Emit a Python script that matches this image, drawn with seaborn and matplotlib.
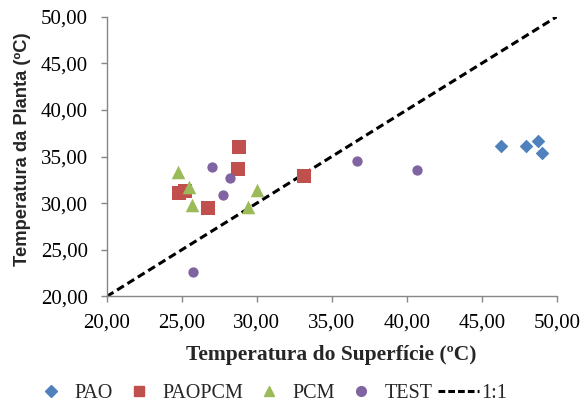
import matplotlib
matplotlib.use("Agg")
import matplotlib.pyplot as plt
import seaborn as sns
import pandas as pd
from matplotlib.lines import Line2D

# Surface temperature (x) vs. plant temperature (y), ºC
pao_x = [46.27, 47.95, 48.75, 49.02]
pao_y = [36.16, 36.16, 36.70, 35.35]

paopcm_x = [24.85, 25.20, 26.75, 28.80, 28.75, 33.15]
paopcm_y = [31.05, 31.30, 29.52, 36.05, 33.63, 32.95]

pcm_x = [24.77, 25.50, 25.70, 30.04, 29.45]
pcm_y = [33.38, 31.77, 29.80, 31.40, 29.60]

test_x = [27.04, 28.20, 27.75, 25.73, 36.70, 40.70]
test_y = [33.90, 32.67, 30.85, 22.66, 34.49, 33.56]

ref_line = [20.0, 50.0]
ticks = [20, 25, 30, 35, 40, 45, 50]

series = [
    ("PAO", pao_x, pao_y, "#4F81BD", "D", 48),
    ("PAOPCM", paopcm_x, paopcm_y, "#C0504D", "s", 90),
    ("PCM", pcm_x, pcm_y, "#9BBB59", "^", 95),
    ("TEST", test_x, test_y, "#8064A2", "o", 55),
]

sns.set_style("white")
plt.rcParams["font.family"] = ["Liberation Serif", "DejaVu Serif"]

fig = plt.figure(figsize=(5.83, 4.17), dpi=100)
ax = fig.add_axes([0.183, 0.289, 0.772, 0.671])

handles = []
for name, xs, ys, color, marker, size in series:
    df = pd.DataFrame({"x": xs, "y": ys})
    sns.scatterplot(data=df, x="x", y="y", ax=ax, color=color, marker=marker,
                    s=size, linewidth=0, zorder=3)
    handles.append(Line2D([], [], linestyle="none", marker=marker, color=color,
                          markersize=7 if marker != "D" else 6, label=name))

sns.lineplot(x=ref_line, y=ref_line, ax=ax, color="black", linewidth=2.2,
             zorder=2)
ax.lines[-1].set_dashes((2.6, 1.4))
handles.append(Line2D([], [], color="black", linewidth=2.2,
                      dashes=(2.2, 1.0), label="1:1"))

ax.set_xlim(20, 50)
ax.set_ylim(20, 50)
ax.set_xticks(ticks)
ax.set_yticks(ticks)
fmt = lambda v: f"{v:.2f}".replace(".", ",")
ax.set_xticklabels([fmt(t) for t in ticks], fontsize=15)
ax.set_yticklabels([fmt(t) for t in ticks], fontsize=15)

for side in ("top", "right"):
    ax.spines[side].set_visible(False)
for side in ("left", "bottom"):
    ax.spines[side].set_color("#868686")
    ax.spines[side].set_linewidth(1.0)
ax.tick_params(axis="y", direction="out", length=4, width=1,
               color="#868686", labelcolor="black", pad=9.5, left=True)
ax.tick_params(axis="x", direction="out", length=4, width=1,
               color="#868686", labelcolor="black", pad=8, bottom=True)

ax.set_xlabel("Temperatura do Superfície (ºC)", fontsize=15.5,
              fontweight="bold", labelpad=9)
ax.set_ylabel("Temperatura da Planta (ºC)", fontsize=13.2, fontweight="bold",
              family=["Liberation Sans", "DejaVu Sans"])
ax.yaxis.set_label_coords(-0.168, 0.527)

fig.legend(handles=handles, loc="center", bbox_to_anchor=(0.462, 0.057),
           ncol=5, frameon=False, fontsize=14.5, handlelength=2.0,
           handletextpad=0.15, columnspacing=0.3)

fig.savefig("out.png", dpi=100, facecolor="white")
